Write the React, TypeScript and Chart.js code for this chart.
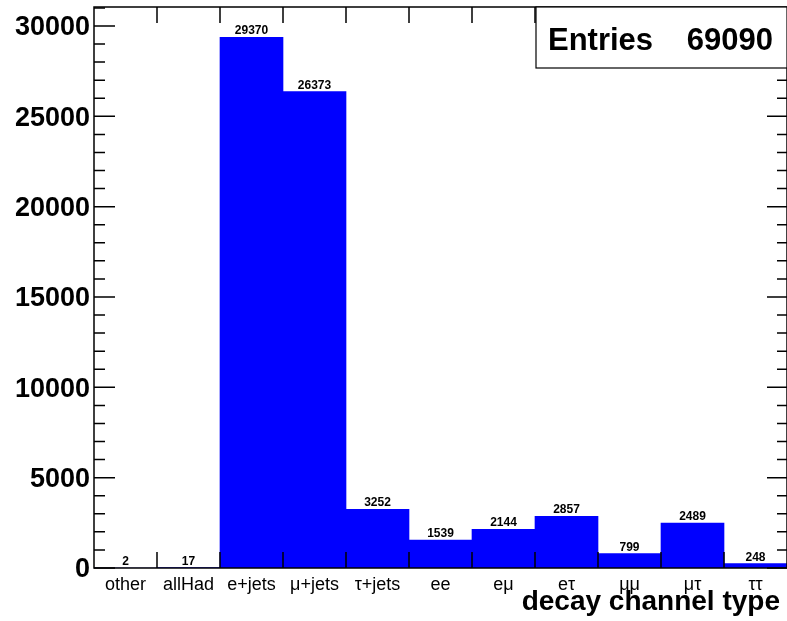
import React, { useEffect, useRef } from "react";
import { Chart, registerables } from "chart.js";

Chart.register(...registerables);

const categories = ["other", "allHad", "e+jets", "μ+jets", "τ+jets", "ee", "eμ", "eτ", "μμ", "μτ", "ττ"];
const counts = [2, 17, 29370, 26373, 3252, 1539, 2144, 2857, 799, 2489, 248];
const yTickValues = [0, 5000, 10000, 15000, 20000, 25000, 30000];
const entriesLabel = "Entries";
const entriesValue = "69090";
const xTitle = "decay channel type";
const yMax = 31050;
const yMajorStep = 5000;
const yMinorStep = 1000;

const FONT = "'Liberation Sans', Arial, sans-serif";

const rootStylePlugin = {
  id: "rootStyle",
  afterDatasetsDraw(chart: any) {
    const { ctx, chartArea } = chart;
    const xs = chart.scales.x;
    const ys = chart.scales.y;
    const { left, right, top, bottom } = chartArea;
    ctx.save();
    // value labels
    const meta = chart.getDatasetMeta(0);
    ctx.fillStyle = "#000";
    ctx.font = `bold 12px ${FONT}`;
    ctx.textAlign = "center";
    ctx.textBaseline = "alphabetic";
    meta.data.forEach((bar: any, i: number) => {
      ctx.fillText(String(counts[i]), bar.x, bar.y - 3);
    });

    ctx.strokeStyle = "#000";
    ctx.lineWidth = 1.5;
    // y ticks (left and right)
    for (let v = 0; v <= yMax; v += yMinorStep) {
      const y = ys.getPixelForValue(v);
      const major = v % yMajorStep === 0;
      const lenL = major ? 21 : 11;
      const lenR = major ? 20 : 10;
      ctx.beginPath();
      ctx.moveTo(left, y);
      ctx.lineTo(left + lenL, y);
      ctx.moveTo(right, y);
      ctx.lineTo(right - lenR, y);
      ctx.stroke();
    }
    // x ticks at bin boundaries
    for (let i = 0; i < categories.length - 1; i++) {
      const x = (xs.getPixelForValue(i) + xs.getPixelForValue(i + 1)) / 2;
      ctx.beginPath();
      ctx.moveTo(x, bottom);
      ctx.lineTo(x, bottom - 16);
      ctx.moveTo(x, top);
      ctx.lineTo(x, top + 16);
      ctx.stroke();
    }
    // frame
    ctx.lineWidth = 1.5;
    ctx.strokeRect(left, top, right - left, bottom - top);

    // entries box
    const bx0 = 536, by0 = top, bx1 = right, by1 = 68;
    ctx.fillStyle = "#fff";
    ctx.fillRect(bx0, by0, bx1 - bx0, by1 - by0);
    ctx.lineWidth = 1.2;
    ctx.strokeRect(bx0, by0, bx1 - bx0, by1 - by0);
    ctx.fillStyle = "#000";
    ctx.font = `bold 31px ${FONT}`;
    ctx.textAlign = "left";
    ctx.fillText(entriesLabel, 548, 50);
    ctx.textAlign = "right";
    ctx.fillText(entriesValue, 773, 50);

    // axis title
    ctx.font = `bold 28px ${FONT}`;
    ctx.textAlign = "right";
    ctx.fillText(xTitle, 780, 610);
    ctx.restore();
  },
};

export default function App() {
  const ref = useRef<HTMLCanvasElement | null>(null);
  useEffect(() => {
    if (!ref.current) return;
    const chart = new Chart(ref.current, {
      type: "bar",
      data: {
        labels: categories,
        datasets: [
          {
            data: counts,
            backgroundColor: "#0000ff",
            borderWidth: 0,
            categoryPercentage: 1,
            barPercentage: 1,
          },
        ],
      },
      options: {
        animation: false,
        responsive: false,
        devicePixelRatio: 1,
        layout: { padding: { top: 7, right: 0, left: 0, bottom: 0 } },
        plugins: { legend: { display: false }, tooltip: { enabled: false } },
        scales: {
          x: {
            grid: { display: false },
            border: { display: false },
            ticks: { font: { family: FONT, size: 18 }, color: "#000", padding: -2, maxRotation: 0, autoSkip: false },
            afterFit: (s: any) => {
              s.height = 53;
              s.paddingLeft = 0;
              s.paddingRight = 0;
            },
          },
          y: {
            min: 0,
            max: yMax,
            grid: { display: false },
            border: { display: false },
            afterBuildTicks: (s: any) => {
              s.ticks = yTickValues.map((v) => ({ value: v }));
            },
            ticks: {
              callback: (v: any) => String(v),
              font: { family: FONT, size: 27, weight: "bold" },
              color: "#000",
              padding: -4,
              labelOffset: 2,
            },
            afterFit: (s: any) => {
              s.width = 94;
              s.paddingTop = 0;
              s.paddingBottom = 0;
            },
          },
        },
      },
      plugins: [rootStylePlugin],
    });
    return () => chart.destroy();
  }, []);
  return (
    <div style={{ position: "absolute", left: 0, top: 0, width: 787, height: 621, background: "#fff" }}>
      <canvas ref={ref} width={787} height={621} />
    </div>
  );
}
